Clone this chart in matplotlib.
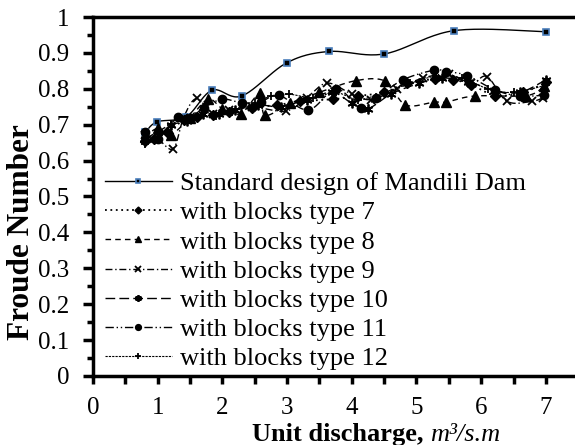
import numpy as np
import matplotlib
matplotlib.use("Agg")
import matplotlib.pyplot as plt
from matplotlib.lines import Line2D
from matplotlib.ticker import MultipleLocator, FuncFormatter

plt.rcParams['font.family'] = ['Liberation Serif', 'DejaVu Serif']

# ---------------- data ----------------
std_x = [0.81, 0.99, 1.44, 1.84, 2.30, 3.00, 3.65, 4.50, 5.58, 7.00]
std_y = [0.679, 0.708, 0.722, 0.796, 0.780, 0.873, 0.904, 0.897, 0.962, 0.959]

t7_x = [0.80, 0.95, 1.15, 1.40, 1.60, 1.85, 2.10, 2.46, 2.85, 3.20, 3.71, 4.10, 4.50, 4.85, 5.28, 5.57, 5.85, 6.22, 6.65, 7.00]
t7_y = [0.655, 0.660, 0.680, 0.712, 0.722, 0.726, 0.736, 0.747, 0.755, 0.765, 0.771, 0.780, 0.790, 0.815, 0.827, 0.825, 0.811, 0.781, 0.790, 0.818]

t8_x = [0.80, 1.00, 1.20, 1.50, 1.78, 2.00, 2.28, 2.58, 2.66, 3.05, 3.50, 4.07, 4.52, 4.83, 5.27, 5.46, 5.90, 6.70, 6.97]
t8_y = [0.665, 0.690, 0.672, 0.720, 0.771, 0.745, 0.731, 0.787, 0.726, 0.760, 0.790, 0.823, 0.821, 0.755, 0.763, 0.763, 0.780, 0.781, 0.807]

t9_x = [0.80, 1.00, 1.24, 1.40, 1.60, 1.85, 2.10, 2.45, 2.98, 3.30, 3.62, 4.00, 4.30, 4.70, 5.10, 5.50, 5.85, 6.09, 6.40, 6.78, 6.96]
t9_y = [0.670, 0.660, 0.633, 0.720, 0.773, 0.730, 0.740, 0.750, 0.738, 0.775, 0.816, 0.785, 0.770, 0.800, 0.830, 0.840, 0.815, 0.834, 0.765, 0.765, 0.775]

t10_x = [0.80, 1.00, 1.20, 1.45, 1.70, 1.95, 2.20, 2.55, 2.90, 3.30, 3.70, 4.00, 4.25, 4.60, 5.04, 5.40, 5.80, 6.20, 6.60, 7.00]
t10_y = [0.660, 0.680, 0.700, 0.710, 0.730, 0.730, 0.740, 0.755, 0.750, 0.770, 0.790, 0.760, 0.745, 0.785, 0.815, 0.830, 0.820, 0.795, 0.790, 0.825]

t11_x = [0.80, 1.00, 1.31, 1.50, 1.71, 2.00, 2.30, 2.59, 2.87, 3.33, 3.76, 4.14, 4.38, 4.79, 5.27, 5.46, 5.78, 6.22, 6.60, 6.97]
t11_y = [0.680, 0.660, 0.722, 0.720, 0.747, 0.771, 0.761, 0.764, 0.782, 0.741, 0.800, 0.747, 0.775, 0.825, 0.852, 0.848, 0.837, 0.796, 0.780, 0.782]

t12_x = [0.80, 1.00, 1.20, 1.45, 1.70, 1.90, 2.15, 2.50, 2.75, 3.03, 3.40, 3.75, 4.10, 4.50, 4.90, 5.30, 5.70, 6.10, 6.50, 7.00]
t12_y = [0.645, 0.660, 0.700, 0.720, 0.740, 0.725, 0.735, 0.760, 0.780, 0.785, 0.775, 0.790, 0.770, 0.790, 0.815, 0.835, 0.830, 0.800, 0.790, 0.810]

labels = ["Standard design of Mandili Dam", "with blocks type 7", "with blocks type 8",
          "with blocks type 9", "with blocks type 10", "with blocks type 11", "with blocks type 12"]

# ---------------- figure ----------------
W, H = 575, 445
fig = plt.figure(figsize=(W / 100, H / 100), dpi=100)
ax = fig.add_axes([93/W, 1-376/H, 1-93/W, (376-17)/H])
ax.set_xlim(0, 7.45)
ax.set_ylim(0, 1)

def smooth(xs, ys, n=24):
    pts = ax.transData.transform(np.column_stack([xs, ys]))
    P = np.vstack([pts[0], pts, pts[-1]])
    out = []
    t = np.linspace(0, 1, n)[:, None]
    for i in range(1, len(P) - 2):
        p0, p1, p2, p3 = P[i-1], P[i], P[i+1], P[i+2]
        c1 = p1 + (p2 - p0) / 6.0
        c2 = p2 - (p3 - p1) / 6.0
        seg = (1-t)**3*p1 + 3*(1-t)**2*t*c1 + 3*(1-t)*t**2*c2 + t**3*p2
        out.append(seg if i == 1 else seg[1:])
    d = ax.transData.inverted().transform(np.vstack(out))
    return d[:, 0], d[:, 1]

series = [
    (std_x, std_y, '-', 's', 5, 1.0, dict(mfc='black', mec='#4a7ebb', mew=1.2)),
    (t7_x, t7_y, (0, (1, 2)), 'D', 5, 1.3, dict(mfc='black', mec='black')),
    (t8_x, t8_y, (0, (4, 3)), '^', 7, 1.0, dict(mfc='black', mec='black')),
    (t9_x, t9_y, (0, (5, 2, 1, 2)), 'x', 6, 1.0, dict(mfc='black', mec='black', mew=1.3)),
    (t10_x, t10_y, (0, (7, 3)), (6, 2, 0), 7, 1.0, dict(mfc='black', mec='black', mew=1.3)),
    (t11_x, t11_y, (0, (6, 2, 1, 2, 1, 2)), 'o', 6, 1.0, dict(mfc='black', mec='black')),
    (t12_x, t12_y, (0, (2, 1)), '+', 6, 0.8, dict(mfc='black', mec='black', mew=1.3)),
]

handles = []
for (xs, ys, ls, mk, ms, lw, mkw), lab in zip(series, labels):
    sx, sy = smooth(xs, ys)
    ax.plot(sx, sy, color='black', linestyle=ls, linewidth=lw, zorder=2)
    ax.plot(xs, ys, linestyle='none', marker=mk, markersize=ms, zorder=3, **mkw)
    handles.append(Line2D([], [], color='black', linestyle=ls, linewidth=lw, marker=mk,
                          markersize=ms * 0.7, **mkw))

# ---------------- axes styling ----------------
fs_tick = 18
fs_leg = 19
fs_ylab = 22.5
fs_xlab = 19
for s in ['left', 'bottom', 'top']:
    ax.spines[s].set_linewidth(2.5)
ax.spines['right'].set_visible(False)

ax.xaxis.set_major_locator(MultipleLocator(1))
ax.xaxis.set_minor_locator(MultipleLocator(0.5))
ax.yaxis.set_major_locator(MultipleLocator(0.1))
ax.yaxis.set_minor_locator(MultipleLocator(0.05))
ax.yaxis.set_major_formatter(FuncFormatter(lambda v, p: f"{v:g}"))
ax.xaxis.set_major_formatter(FuncFormatter(lambda v, p: f"{v:g}"))
ax.tick_params(axis='x', which='both', direction='out', length=6, width=2.5, pad=9, labelsize=fs_tick)
ax.tick_params(axis='y', which='major', direction='out', length=7, width=2.5, pad=10, labelsize=fs_tick)
ax.tick_params(axis='y', which='minor', direction='out', length=4.5, width=2.5)
ax.tick_params(top=False, right=False, which='both')

fig.text(22/W, 1 - 232/H, "Froude Number", fontsize=fs_ylab, fontweight='bold',
         rotation=90, ha='center', va='center')

# x label: bold part + italic unit
t1 = fig.text(0, 0, "Unit discharge, ", fontsize=fs_xlab, fontweight='bold', ha='left', va='baseline')
t2 = fig.text(0, 0, "m³/s.m", fontsize=fs_xlab, style='italic', ha='left', va='baseline')
fig.canvas.draw()
r = fig.canvas.get_renderer()
w1 = t1.get_window_extent(r).width
w2 = t2.get_window_extent(r).width
x_end = 500
x0 = x_end - (w1 + w2)
base = H - 441
t1.set_position((x0 / W, base / H))
t2.set_position(((x0 + w1) / W, base / H))

leg = ax.legend(handles, labels, loc='lower left', bbox_to_anchor=(6 / 482, 0.0), frameon=False,
                fontsize=fs_leg, handlelength=2.55, handletextpad=0.3, labelspacing=0.215,
                borderaxespad=0.12, borderpad=0.1)

fig.savefig("out.png", dpi=100)
